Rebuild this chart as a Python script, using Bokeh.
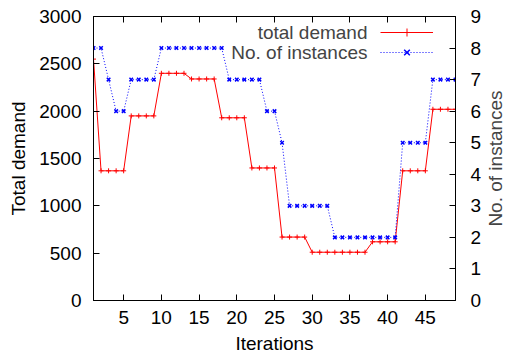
import math
from bokeh.plotting import figure
from bokeh.layouts import row
from bokeh.models import (Range1d, LinearAxis, FixedTicker, Legend, LegendItem,
                          Label, CustomJSTickFormatter)
from bokeh.embed import file_html
from bokeh.resources import INLINE

# ---- data ----
iterations = list(range(1, 50))
total_demand = [2550,
                1370, 1370, 1370, 1370,
                1950, 1950, 1950, 1950,
                2400, 2400, 2400, 2400,
                2340, 2340, 2340, 2340,
                1930, 1930, 1930, 1930,
                1400, 1400, 1400, 1400,
                670, 670, 670, 670,
                510, 510, 510, 510, 510, 510, 510, 510,
                620, 620, 620, 620,
                1370, 1370, 1370, 1370,
                2020, 2020, 2020, 2020]
instances = [8, 8,
             7,
             6, 6,
             7, 7, 7, 7,
             8, 8, 8, 8, 8, 8, 8, 8, 8,
             7, 7, 7, 7, 7,
             6, 6,
             5,
             3, 3, 3, 3, 3, 3,
             2, 2, 2, 2, 2, 2, 2, 2, 2,
             5, 5, 5, 5,
             7, 7, 7, 7]
x_ticks = [5, 10, 15, 20, 25, 30, 35, 40, 45]
demand_ticks = [0, 500, 1000, 1500, 2000, 2500, 3000]
inst_ticks = [0, 1, 2, 3, 4, 5, 6, 7, 8, 9]
series_names = ["total demand", "No. of instances"]

FONT = "Liberation Sans"
FS = "19px"
H = 360
W_MAIN = 484

p = figure(width=W_MAIN, height=H, x_range=Range1d(1, 49), y_range=Range1d(0, 3000),
           output_backend="svg", toolbar_location=None,
           min_border_left=93, min_border_right=26, min_border_top=16, min_border_bottom=60)
p.extra_y_ranges = {"inst": Range1d(0, 9)}
p.grid.visible = False
p.outline_line_color = "black"
p.outline_line_width = 1
p.background_fill_color = "white"
p.border_fill_color = "white"

def style_axis(ax):
    ax.major_tick_in = 6
    ax.major_tick_out = 0
    ax.minor_tick_line_color = None
    ax.axis_line_color = "black"
    ax.major_tick_line_color = "black"
    ax.major_label_text_font = FONT
    ax.major_label_text_font_size = FS
    ax.major_label_text_color = "black"
    ax.axis_label_text_font = FONT
    ax.axis_label_text_font_size = FS
    ax.axis_label_text_font_style = "normal"
    ax.axis_label_text_color = "black"

xa = p.xaxis[0]
xa.ticker = FixedTicker(ticks=x_ticks)
xa.axis_label = "Iterations"
style_axis(xa)
xa.major_label_standoff = 10
xa.axis_label_standoff = 6

ya = p.yaxis[0]
ya.ticker = FixedTicker(ticks=demand_ticks)
ya.axis_label = "Total demand"
style_axis(ya)
ya.major_label_standoff = 12
ya.axis_label_standoff = 7

ra = LinearAxis(y_range_name="inst", ticker=FixedTicker(ticks=inst_ticks))
style_axis(ra)
ra.major_label_standoff = 15
p.add_layout(ra, "right")

ta = LinearAxis(ticker=FixedTicker(ticks=x_ticks),
                formatter=CustomJSTickFormatter(code="return ''"))
style_axis(ta)
ta.major_label_text_font_size = "1px"
ta.major_label_standoff = 0
p.add_layout(ta, "above")

# ---- series ----
r1 = p.line(iterations, total_demand, line_color="#ff0000", line_width=1)
r1m = p.scatter(iterations, total_demand, marker="cross", size=5,
                line_color="#ff0000", line_width=1)
r2 = p.line(iterations, instances, y_range_name="inst", line_color="#0000ff",
            line_width=1, line_dash="1 2")
r2m = p.scatter(iterations, instances, y_range_name="inst", marker="x", size=5,
                line_color="#0000ff", line_width=1.5)

# ---- legend (gnuplot style: text left, sample right) ----
legend = Legend(items=[LegendItem(label=" ", renderers=[r1, r1m]),
                       LegendItem(label=" ", renderers=[r2, r2m])],
                location=(287, 238), glyph_width=53, glyph_height=20,
                label_width=0, label_height=20, label_standoff=0,
                label_text_font_size="1px", padding=0, spacing=0, margin=0,
                border_line_color=None, background_fill_alpha=0)
p.add_layout(legend)

fh = 284
p.add_layout(Label(x=274, y=fh - 16, x_units="screen", y_units="screen",
                   text=series_names[0], text_align="right", text_baseline="middle",
                   text_font=FONT, text_font_size=FS))
p.add_layout(Label(x=274, y=fh - 36, x_units="screen", y_units="screen",
                   text=series_names[1], text_align="right", text_baseline="middle",
                   text_font=FONT, text_font_size=FS))

# ---- right axis title (reads bottom-to-top, as in the original) ----
W2 = 505 - W_MAIN
p2 = figure(width=W2, height=H, x_range=Range1d(0, 1), y_range=Range1d(0, 1),
            output_backend="svg", toolbar_location=None,
            x_axis_location=None, y_axis_location=None,
            min_border_left=0, min_border_right=0, min_border_top=0, min_border_bottom=0)
p2.grid.visible = False
p2.outline_line_color = None
p2.background_fill_color = "white"
p2.border_fill_color = "white"
p2.add_layout(Label(x=W2 / 2, y=fh / 2, x_units="screen", y_units="screen",
                    text=series_names[1], angle=math.pi / 2,
                    text_align="center", text_baseline="middle",
                    text_font=FONT, text_font_size=FS))

layout = row(p, p2, spacing=0)
open("out.html", "w").write(file_html(layout, INLINE))
